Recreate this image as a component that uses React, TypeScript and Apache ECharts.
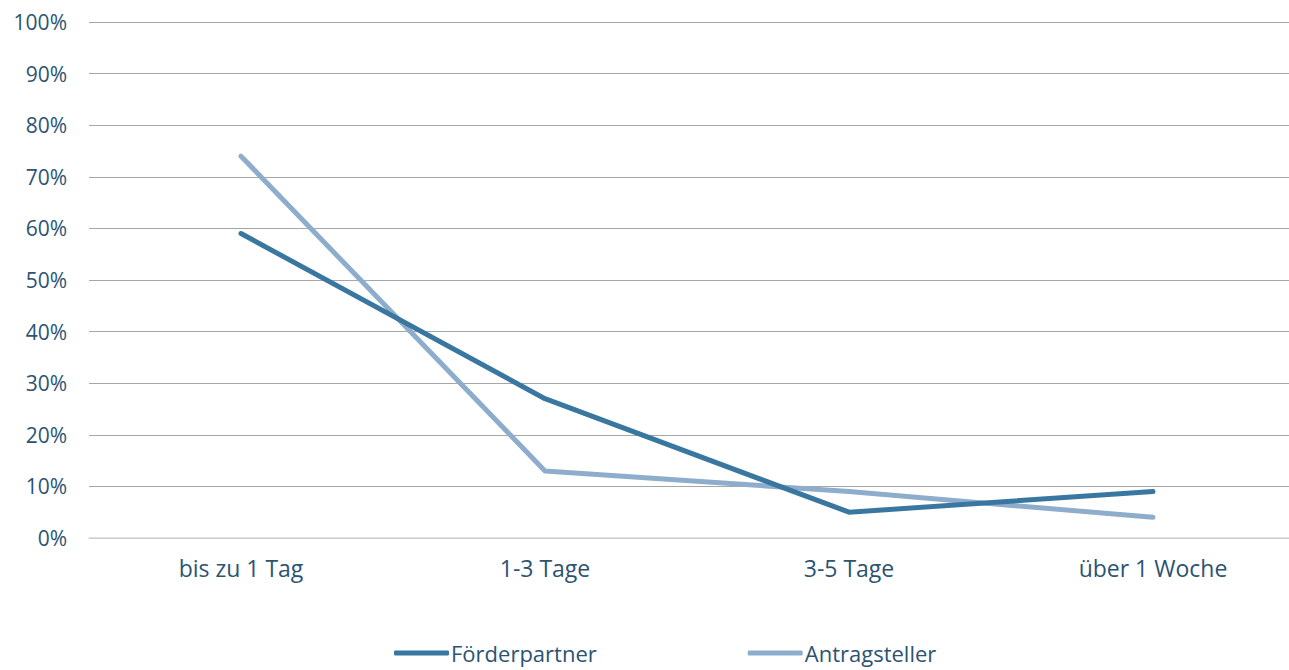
import React, { useEffect, useRef } from "react";
import * as echarts from "echarts";

const categories = ["bis zu 1 Tag", "1-3 Tage", "3-5 Tage", "über 1 Woche"];
const foerderpartner = [59, 27, 5, 9];
const antragsteller = [74, 13, 9, 4];
const seriesNames = ["Förderpartner", "Antragsteller"];

const TEXT = "#2b5473";
const FONT = "'Open Sans', 'Noto Sans', sans-serif";

export default function App() {
  const ref = useRef<HTMLDivElement>(null);

  useEffect(() => {
    if (!ref.current) return;
    const chart = echarts.init(ref.current, undefined, { renderer: "svg" });
    chart.setOption({
      animation: false,
      textStyle: { fontFamily: FONT },
      // the plot runs a little past the visible window on the right
      grid: { left: 89, right: 0, top: 22, bottom: 132, containLabel: false },
      legend: {
        bottom: 0,
        left: 389,
        itemGap: 151,
        icon: "roundRect",
        itemWidth: 55,
        itemHeight: 5,
        textStyle: { color: TEXT, fontSize: 22, fontFamily: FONT, padding: [0, 0, 0, -3], lineHeight: 24 },
        data: seriesNames,
      },
      xAxis: {
        type: "category",
        data: categories,
        boundaryGap: true,
        axisLine: { show: true, lineStyle: { color: "#d9d9d9", width: 1.5 } },
        axisTick: { show: false },
        axisLabel: { color: TEXT, fontSize: 23, fontFamily: FONT, margin: 18 },
      },
      yAxis: {
        type: "value",
        min: 0,
        max: 100,
        interval: 10,
        axisLine: { show: false },
        axisTick: { show: false },
        axisLabel: { color: TEXT, fontSize: 21, fontFamily: FONT, margin: 22, formatter: "{value}%" },
        splitLine: { lineStyle: { color: "#a6a6a6", width: 1 } },
      },
      series: [
        {
          name: seriesNames[0],
          type: "line",
          data: foerderpartner,
          symbol: "none",
          z: 3,
          color: "#3a77a0",
          lineStyle: { width: 5, color: "#3a77a0", cap: "round", join: "round" },
        },
        {
          name: seriesNames[1],
          type: "line",
          data: antragsteller,
          symbol: "none",
          z: 2,
          color: "#8eadcc",
          lineStyle: { width: 5, color: "#8eadcc", cap: "round", join: "round" },
        },
      ],
    });
    return () => chart.dispose();
  }, []);

  return (
    <div style={{ position: "fixed", left: 0, top: 0, width: 1289, height: 670, overflow: "hidden", background: "#fff" }}>
      <div ref={ref} style={{ width: 1305, height: 670 }} />
    </div>
  );
}
